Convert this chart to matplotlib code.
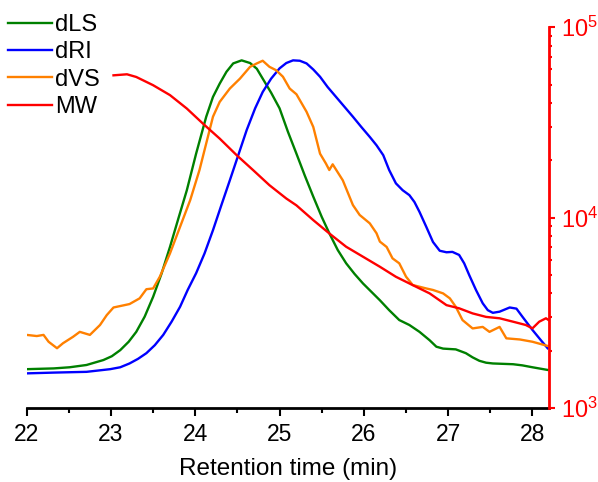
import numpy as np
import matplotlib
matplotlib.use("Agg")
from matplotlib import pyplot as plt
from matplotlib.ticker import LogLocator, MultipleLocator, NullFormatter

plt.rcParams['font.family'] = ['Liberation Sans', 'DejaVu Sans']

# dLS (light scattering), normalised signal
ls_t = [22.00, 22.32, 22.51, 22.71, 22.91, 23.01, 23.11, 23.21, 23.30, 23.40,
        23.50, 23.60, 23.70, 23.80, 23.90, 24.01, 24.13, 24.21, 24.29, 24.37,
        24.45, 24.55, 24.65, 24.73, 24.80, 24.90, 25.00, 25.10, 25.20, 25.30,
        25.40, 25.50, 25.59, 25.69, 25.79, 25.89, 25.99, 26.09, 26.19, 26.30,
        26.42, 26.54, 26.66, 26.78, 26.86, 26.94, 27.09, 27.21, 27.29, 27.37,
        27.45, 27.53, 27.77, 27.88, 28.00, 28.18]
ls_v = [0.102, 0.104, 0.107, 0.113, 0.126, 0.136, 0.152, 0.174, 0.200, 0.240,
        0.292, 0.353, 0.423, 0.498, 0.572, 0.668, 0.765, 0.817, 0.852, 0.883,
        0.905, 0.913, 0.906, 0.891, 0.865, 0.828, 0.787, 0.725, 0.668, 0.610,
        0.555, 0.502, 0.459, 0.415, 0.380, 0.352, 0.327, 0.305, 0.283, 0.257,
        0.231, 0.218, 0.200, 0.178, 0.161, 0.156, 0.154, 0.144, 0.133, 0.124,
        0.119, 0.117, 0.115, 0.112, 0.107, 0.100]

# dRI (refractive index)
ri_t = [22.00, 22.32, 22.71, 22.91, 22.99, 23.11, 23.22, 23.32, 23.42, 23.52,
        23.62, 23.72, 23.82, 23.91, 24.01, 24.11, 24.21, 24.31, 24.41, 24.51,
        24.61, 24.71, 24.80, 24.90, 25.00, 25.08, 25.16, 25.24, 25.32, 25.40,
        25.48, 25.57, 25.67, 25.77, 25.87, 25.97, 26.07, 26.15, 26.23, 26.30,
        26.38, 26.46, 26.54, 26.60, 26.66, 26.74, 26.82, 26.90, 26.98, 27.05,
        27.13, 27.19, 27.25, 27.33, 27.41, 27.47, 27.53, 27.61, 27.73, 27.81,
        27.88, 28.00, 28.10, 28.18]
ri_v = [0.091, 0.093, 0.095, 0.100, 0.102, 0.107, 0.117, 0.129, 0.144, 0.165,
        0.192, 0.227, 0.266, 0.310, 0.354, 0.406, 0.467, 0.533, 0.598, 0.664,
        0.730, 0.787, 0.830, 0.865, 0.892, 0.906, 0.913, 0.912, 0.905, 0.889,
        0.870, 0.843, 0.817, 0.791, 0.765, 0.738, 0.712, 0.690, 0.664, 0.625,
        0.590, 0.572, 0.559, 0.541, 0.515, 0.476, 0.436, 0.413, 0.409, 0.410,
        0.402, 0.380, 0.349, 0.310, 0.275, 0.257, 0.250, 0.253, 0.264, 0.261,
        0.240, 0.205, 0.178, 0.157]

# dVS (viscometer)
vs_t = [22.00, 22.12, 22.20, 22.26, 22.36, 22.43, 22.55, 22.63, 22.75, 22.87,
        22.95, 23.03, 23.22, 23.34, 23.42, 23.50, 23.58, 23.70, 23.82, 23.94,
        24.05, 24.13, 24.21, 24.29, 24.41, 24.53, 24.65, 24.73, 24.80, 24.88,
        24.96, 25.04, 25.12, 25.20, 25.32, 25.40, 25.48, 25.55, 25.59, 25.63,
        25.75, 25.87, 25.95, 26.07, 26.15, 26.19, 26.27, 26.34, 26.42, 26.50,
        26.58, 26.74, 26.82, 26.94, 27.02, 27.09, 27.17, 27.29, 27.41, 27.49,
        27.61, 27.69, 27.85, 28.00, 28.18]
vs_v = [0.192, 0.189, 0.192, 0.174, 0.157, 0.170, 0.187, 0.200, 0.192, 0.218,
        0.244, 0.264, 0.273, 0.288, 0.312, 0.314, 0.345, 0.406, 0.476, 0.546,
        0.625, 0.695, 0.765, 0.804, 0.839, 0.865, 0.896, 0.905, 0.912, 0.896,
        0.887, 0.870, 0.839, 0.824, 0.778, 0.738, 0.668, 0.642, 0.625, 0.640,
        0.598, 0.533, 0.507, 0.485, 0.459, 0.437, 0.423, 0.393, 0.380, 0.345,
        0.323, 0.314, 0.310, 0.301, 0.288, 0.266, 0.231, 0.209, 0.213, 0.200,
        0.213, 0.183, 0.180, 0.174, 0.163]

# MW (molecular weight, right log axis)
mw_t = [23.03, 23.19, 23.30, 23.50, 23.70, 23.90, 24.09, 24.29, 24.49, 24.69,
        24.88, 25.08, 25.20, 25.40, 25.59, 25.79, 25.99, 26.19, 26.38, 26.58,
        26.78, 26.98, 27.13, 27.29, 27.45, 27.61, 27.77, 27.92, 28.00, 28.08,
        28.16, 28.19]
mw_v = [55900, 56600, 54800, 49600, 44000, 37400, 31200, 26000, 21300, 17700,
        14800, 12600, 11600, 9700, 8260, 7030, 6230, 5520, 4890, 4420,
        4000, 3470, 3340, 3140, 3010, 2960, 2840, 2730, 2620, 2840,
        2960, 2900]

fig = plt.figure(figsize=(5.98, 4.82), dpi=100)
ax = fig.add_axes([0.0446, 0.1535, 0.874, 0.790])
ax2 = ax.twinx()

l1, = ax.plot(ls_t, ls_v, color='#008000', lw=1.7, label='dLS')
l2, = ax.plot(ri_t, ri_v, color='#0000ff', lw=1.7, label='dRI')
l3, = ax.plot(vs_t, vs_v, color='#ff8000', lw=1.7, label='dVS')
l4, = ax2.plot(mw_t, mw_v, color='#ff0000', lw=1.7, label='MW')

ax.set_xlim(22, 28.2)
ax.set_ylim(0, 1)
ax.set_yticks([])
ax.xaxis.set_major_locator(MultipleLocator(1))
ax.xaxis.set_minor_locator(MultipleLocator(0.5))
ax.tick_params(axis='x', which='major', length=5.5, width=1.5, labelsize=16.5, pad=5)
ax.tick_params(axis='x', which='minor', length=3.3, width=1.5)
ax.set_xlabel('Retention time (min)', fontsize=17.5, labelpad=9)

ax2.set_yscale('log')
ax2.set_ylim(1e3, 1e5)
ax2.yaxis.set_major_locator(LogLocator(base=10))
ax2.yaxis.set_minor_locator(LogLocator(base=10, subs=np.arange(2, 10)))
ax2.yaxis.set_minor_formatter(NullFormatter())
ax2.tick_params(axis='y', which='major', length=4.5, width=1.5, colors='#ff0000',
                labelsize=17, pad=4)
ax2.tick_params(axis='y', which='minor', length=2.5, width=1.5, colors='#ff0000')

for a in (ax, ax2):
    a.spines['top'].set_visible(False)
    a.spines['left'].set_visible(False)
ax.spines['right'].set_visible(False)
ax2.spines['bottom'].set_visible(False)
ax.spines['bottom'].set_linewidth(2)
ax2.spines['right'].set_color('#ff0000')
ax2.spines['right'].set_linewidth(2)

fig.legend(handles=[l1, l2, l3, l4], loc='upper left', bbox_to_anchor=(0.0102, 0.9763),
           frameon=False, fontsize=17, handlelength=1.84, handletextpad=0.14,
           labelspacing=0.23, borderpad=0.1, borderaxespad=0.0)

fig.savefig('out.png', dpi=100)
